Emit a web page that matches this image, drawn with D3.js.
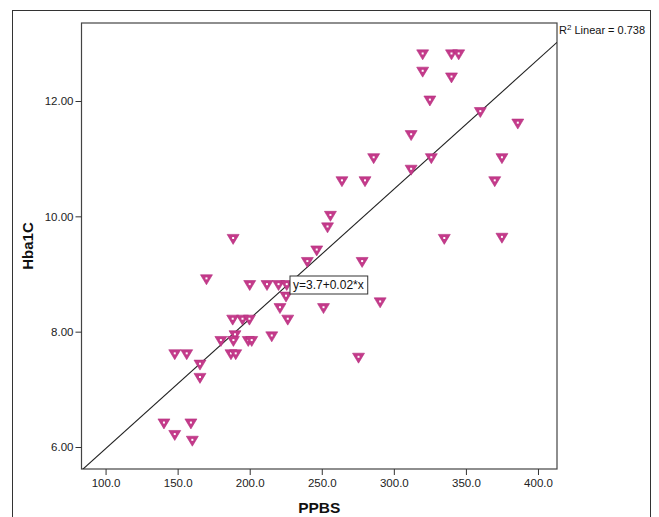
<!DOCTYPE html>
<html>
<head>
<meta charset="utf-8">
<script src="https://cdn.jsdelivr.net/npm/d3@7"></script>
<style>
  html, body { margin: 0; padding: 0; background: #fff; }
  svg { display: block; }
</style>
</head>
<body>
<script>
// ---- data ----
const ppbs = [320, 340, 345, 320, 340, 325, 360, 386, 312, 286, 326, 375, 312, 264, 280, 370,
              256, 254, 246.5, 240, 278, 188.5, 335, 375, 170, 200, 212, 220, 225.7, 225.2,
              221, 226.4, 188.2, 195, 199.8, 189.8, 215.3, 180, 188.7, 199, 201.4, 187, 190.3,
              148, 156.3, 165.5, 165.5, 251.2, 290.5, 275.5, 140.5, 148, 159.2, 160.2];
const hba1c = [12.8, 12.8, 12.8, 12.5, 12.4, 12.0, 11.8, 11.6, 11.4, 11.0, 11.0, 11.0, 10.8, 10.6, 10.6, 10.6,
               10.0, 9.8, 9.4, 9.2, 9.2, 9.6, 9.6, 9.62, 8.9, 8.8, 8.8, 8.8, 8.8, 8.6,
               8.4, 8.2, 8.2, 8.2, 8.2, 7.93, 7.91, 7.83, 7.83, 7.83, 7.83, 7.6, 7.6,
               7.6, 7.6, 7.42, 7.19, 8.4, 8.5, 7.54, 6.4, 6.2, 6.4, 6.1];
const xTicks = [100, 150, 200, 250, 300, 350, 400];
const yTicks = [6, 8, 10, 12];
const fitIntercept = 3.72;
const fitSlope = 0.0225;
const fitLabel = "y=3.7+0.02*x";
const r2Label = "Linear = 0.738";
const xTitle = "PPBS";
const yTitle = "Hba1C";

// ---- layout ----
const W = 659, H = 517;
const L = 81.5, R = 557, T = 23, B = 469;

const svg = d3.select("body").append("svg").attr("width", W).attr("height", H);
const font = "'Liberation Sans', Arial, sans-serif";

// outer frame
svg.append("rect").attr("x", 12.5).attr("y", 10.5).attr("width", 638).attr("height", 520)
  .attr("fill", "none").attr("stroke", "#333").attr("stroke-width", 1);

const x = d3.scaleLinear().domain([83.3, 413.2]).range([L, R]);
const y = d3.scaleLinear().domain([6, 12]).range([447, 101]);

// plot frame
svg.append("rect").attr("x", L).attr("y", T).attr("width", R - L).attr("height", B - T)
  .attr("fill", "#fff").attr("stroke", "#444").attr("stroke-width", 1.2);

// axes
const xAxis = d3.axisBottom(x).tickValues(xTicks).tickFormat(d3.format(".1f")).tickSize(6).tickPadding(4);
const yAxis = d3.axisLeft(y).tickValues(yTicks).tickFormat(d3.format(".2f")).tickSize(6).tickPadding(2);

const gx = svg.append("g").attr("transform", `translate(0,${B})`).call(xAxis);
const gy = svg.append("g").attr("transform", `translate(${L},0)`).call(yAxis);
[gx, gy].forEach(g => {
  g.select(".domain").remove();
  g.selectAll(".tick line").attr("stroke", "#333");
  g.selectAll(".tick text").attr("fill", "#222").style("font-family", font).style("font-size", "11.5px");
});

// clip for regression line
svg.append("clipPath").attr("id", "clip").append("rect")
  .attr("x", L).attr("y", T).attr("width", R - L).attr("height", B - T);

const xd = x.domain();
const fitPts = xd.map(v => [v, fitIntercept + fitSlope * v]);
svg.append("line")
  .attr("clip-path", "url(#clip)")
  .attr("x1", x(fitPts[0][0])).attr("y1", y(fitPts[0][1]))
  .attr("x2", x(fitPts[1][0])).attr("y2", y(fitPts[1][1]))
  .attr("stroke", "#222").attr("stroke-width", 1.1);

// markers
const data = ppbs.map((v, i) => ({x: v, y: hba1c[i]}));
const tri = "M-6,-5 L6,-5 L0,5 Z";
const mg = svg.append("g").selectAll("g").data(data).join("g")
  .attr("transform", d => `translate(${x(d.x)},${y(d.y)})`);
mg.append("path").attr("d", tri).attr("fill", "#c43a8a").attr("stroke", "#b32e7e").attr("stroke-width", 0.6);
mg.append("rect").attr("x", -1).attr("y", -2.4).attr("width", 2).attr("height", 2).attr("fill", "#fff");

// fit label box
const lx = 290, ly = 276;
const lg = svg.append("g");
const lt = lg.append("text").attr("x", lx + 3).attr("y", ly + 13)
  .style("font-family", font).style("font-size", "12px").attr("fill", "#111").text(fitLabel);
const bb = lt.node().getBBox();
lg.insert("rect", "text").attr("x", lx).attr("y", ly).attr("width", bb.width + 7).attr("height", 18)
  .attr("fill", "#fff").attr("stroke", "#333").attr("stroke-width", 1);

// R2 label
const rt = svg.append("text").attr("x", R + 2).attr("y", 34)
  .style("font-family", font).style("font-size", "11px").attr("fill", "#111");
rt.append("tspan").text("R");
rt.append("tspan").attr("dy", -4).style("font-size", "8px").text("2");
rt.append("tspan").attr("dy", 4).text(" " + r2Label);

// axis titles
svg.append("text").attr("x", (L + R) / 2).attr("y", 513).attr("text-anchor", "middle")
  .style("font-family", font).style("font-size", "15.5px").style("font-weight", "bold").attr("fill", "#111").text(xTitle);
svg.append("text").attr("transform", `translate(33,${(T + B) / 2}) rotate(-90)`).attr("text-anchor", "middle")
  .style("font-family", font).style("font-size", "15px").style("font-weight", "bold").attr("fill", "#111").text(yTitle);
</script>
</body>
</html>
